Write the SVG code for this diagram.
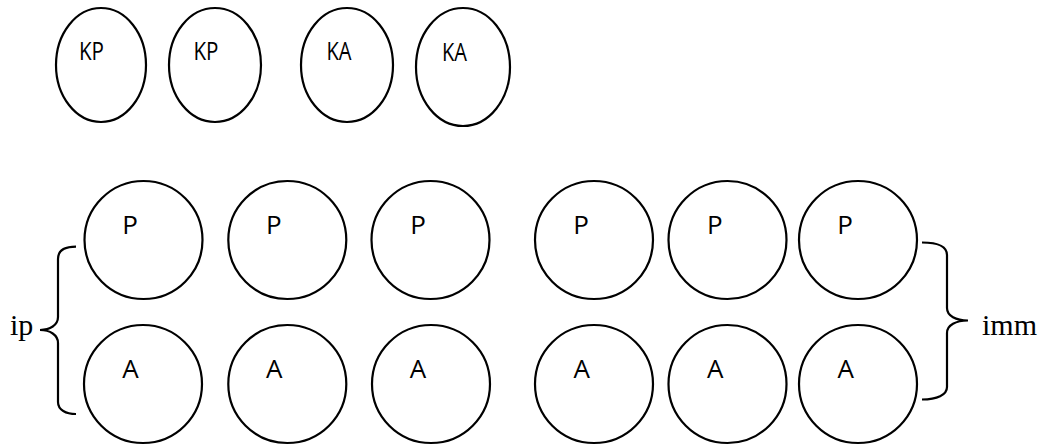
<svg xmlns="http://www.w3.org/2000/svg" width="1051" height="445" viewBox="0 0 1051 445">
<style>
.shape{fill:#fff;stroke:#000;stroke-width:2.2}
.lbl{font-family:"Open Sans","Noto Sans",sans-serif;font-size:26px;fill:#000;text-anchor:middle}
.tm{font-family:"Liberation Serif","Times New Roman",serif;font-size:30px;fill:#000}
.brace{fill:none;stroke:#000;stroke-width:2.2}
</style>
<rect width="1051" height="445" fill="#fff"/>
<g id="kp1"><ellipse class="shape" cx="101" cy="65" rx="45" ry="57"/><text class="lbl" x="91.5" y="60" textLength="25" lengthAdjust="spacingAndGlyphs">KP</text></g>
<g id="kp2"><ellipse class="shape" cx="215" cy="65" rx="46" ry="57"/><text class="lbl" x="206" y="60" textLength="25" lengthAdjust="spacingAndGlyphs">KP</text></g>
<g id="ka1"><ellipse class="shape" cx="347" cy="65" rx="46" ry="57"/><text class="lbl" x="339" y="60" textLength="25" lengthAdjust="spacingAndGlyphs">KA</text></g>
<g id="ka2"><ellipse class="shape" cx="463" cy="67" rx="47" ry="59"/><text class="lbl" x="454.5" y="61" textLength="25" lengthAdjust="spacingAndGlyphs">KA</text></g>
<g id="p1"><circle class="shape" cx="143.5" cy="240" r="59"/><text class="lbl" x="130" y="233.5">P</text></g>
<g id="p2"><circle class="shape" cx="287.3" cy="240" r="59"/><text class="lbl" x="273.7" y="233.5">P</text></g>
<g id="p3"><circle class="shape" cx="430.5" cy="240" r="59"/><text class="lbl" x="418" y="233.5">P</text></g>
<g id="p4"><circle class="shape" cx="594" cy="240" r="59"/><text class="lbl" x="581" y="233.5">P</text></g>
<g id="p5"><circle class="shape" cx="727.5" cy="240" r="59"/><text class="lbl" x="714.7" y="233.5">P</text></g>
<g id="p6"><circle class="shape" cx="858" cy="240" r="59"/><text class="lbl" x="845" y="233.5">P</text></g>
<g id="a1"><circle class="shape" cx="143" cy="384" r="59"/><text class="lbl" x="130.5" y="378">A</text></g>
<g id="a2"><circle class="shape" cx="287.3" cy="384" r="59"/><text class="lbl" x="274.3" y="378">A</text></g>
<g id="a3"><circle class="shape" cx="431" cy="384" r="59"/><text class="lbl" x="418" y="378">A</text></g>
<g id="a4"><circle class="shape" cx="594" cy="384" r="59"/><text class="lbl" x="581.7" y="378">A</text></g>
<g id="a5"><circle class="shape" cx="727.5" cy="384" r="59"/><text class="lbl" x="715.3" y="378">A</text></g>
<g id="a6"><circle class="shape" cx="858" cy="384" r="59"/><text class="lbl" x="845.8" y="378">A</text></g>
<g id="connectors">
<path class="brace" d="M76,246.7 C66,246.7 58,250 58,259 L58,317 C58,325 50,330 40,330 C50,330 58,335 58,343 L58,402 C58,410 66,414 76,414"/>
<path class="brace" d="M922,242.5 C937,242.5 947,246 947,255 L947,308 C947,316 956,320.5 968,320.5 C956,320.5 947,325 947,333 L947,387 C947,395 937,399.5 922,399.5"/>
</g>
<g id="label-ip"><text class="tm" x="10" y="335">ip</text></g>
<g id="label-imm"><text class="tm" x="982" y="335">imm</text></g>
</svg>
